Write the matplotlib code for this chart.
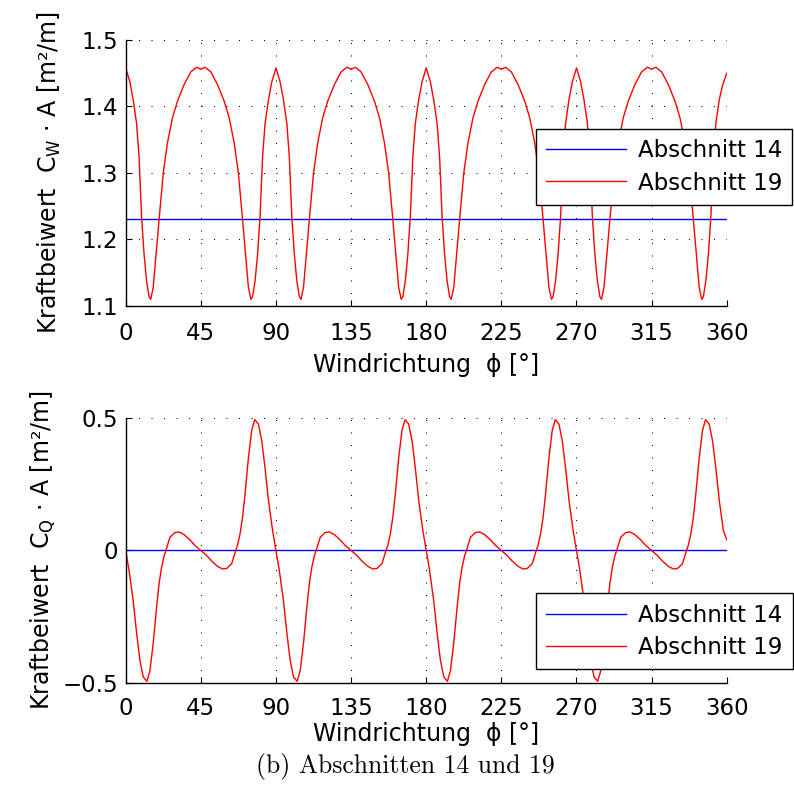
import matplotlib
matplotlib.use('Agg')
import matplotlib.pyplot as plt

# wind direction (deg) and force coefficients
phi_w = [0, 2.5, 4.5, 6.5, 8, 9.5, 11, 12.5, 14, 15, 16.5, 18, 20, 22.5, 25, 28, 31, 35, 39, 42.5,
         45, 47.5, 51, 55, 59, 62, 65, 67.5, 70, 72, 73.5, 75, 76, 77.5, 79, 80.5, 82, 83.5, 85.5, 87.5,
         90, 92.5, 94.5, 96.5, 98, 99.5, 101, 102.5, 104, 105, 106.5, 108, 110, 112.5, 115, 118, 121, 125, 129, 132.5,
         135, 137.5, 141, 145, 149, 152, 155, 157.5, 160, 162, 163.5, 165, 166, 167.5, 169, 170.5, 172, 173.5, 175.5, 177.5,
         180, 182.5, 184.5, 186.5, 188, 189.5, 191, 192.5, 194, 195, 196.5, 198, 200, 202.5, 205, 208, 211, 215, 219, 222.5,
         225, 227.5, 231, 235, 239, 242, 245, 247.5, 250, 252, 253.5, 255, 256, 257.5, 259, 260.5, 262, 263.5, 265.5, 267.5,
         270, 272.5, 274.5, 276.5, 278, 279.5, 281, 282.5, 284, 285, 286.5, 288, 290, 292.5, 295, 298, 301, 305, 309, 312.5,
         315, 317.5, 321, 325, 329, 332, 335, 337.5, 340, 342, 343.5, 345, 346, 347.5, 349, 350.5, 352, 353.5, 355.5, 357.5,
         360]
cw_19 = [1.458, 1.437, 1.410, 1.375, 1.325, 1.235, 1.178, 1.138, 1.114, 1.110, 1.128, 1.172, 1.230, 1.300, 1.345, 1.383, 1.408, 1.433, 1.452, 1.459,
         1.456, 1.459, 1.452, 1.433, 1.408, 1.383, 1.345, 1.300, 1.230, 1.172, 1.128, 1.110, 1.114, 1.138, 1.178, 1.235, 1.325, 1.375, 1.410, 1.437,
         1.458, 1.437, 1.410, 1.375, 1.325, 1.235, 1.178, 1.138, 1.114, 1.110, 1.128, 1.172, 1.230, 1.300, 1.345, 1.383, 1.408, 1.433, 1.452, 1.459,
         1.456, 1.459, 1.452, 1.433, 1.408, 1.383, 1.345, 1.300, 1.230, 1.172, 1.128, 1.110, 1.114, 1.138, 1.178, 1.235, 1.325, 1.375, 1.410, 1.437,
         1.458, 1.437, 1.410, 1.375, 1.325, 1.235, 1.178, 1.138, 1.114, 1.110, 1.128, 1.172, 1.230, 1.300, 1.345, 1.383, 1.408, 1.433, 1.452, 1.459,
         1.456, 1.459, 1.452, 1.433, 1.408, 1.383, 1.345, 1.300, 1.230, 1.172, 1.128, 1.110, 1.114, 1.138, 1.178, 1.235, 1.325, 1.375, 1.410, 1.437,
         1.458, 1.437, 1.410, 1.375, 1.325, 1.235, 1.178, 1.138, 1.114, 1.110, 1.128, 1.172, 1.230, 1.300, 1.345, 1.383, 1.408, 1.433, 1.452, 1.459,
         1.456, 1.459, 1.452, 1.433, 1.408, 1.383, 1.345, 1.300, 1.230, 1.172, 1.128, 1.110, 1.114, 1.138, 1.178, 1.235, 1.325, 1.375, 1.410, 1.432,
         1.450]

phi_q = [0, 2, 4.5, 6.5, 8.5, 10.5, 12.7, 14.5, 16.5, 18.5, 20, 21.5, 23, 24.1, 26.5, 29.5, 32, 35, 38.5, 41.5,
         45, 48.5, 51.5, 55, 58, 60.5, 63.5, 65.9, 67, 68.5, 70, 71.5, 73.5, 75.5, 77.3, 79.5, 81.5, 83.5, 85.5, 88,
         90, 92, 94.5, 96.5, 98.5, 100.5, 102.7, 104.5, 106.5, 108.5, 110, 111.5, 113, 114.1, 116.5, 119.5, 122, 125, 128.5, 131.5,
         135, 138.5, 141.5, 145, 148, 150.5, 153.5, 155.9, 157, 158.5, 160, 161.5, 163.5, 165.5, 167.3, 169.5, 171.5, 173.5, 175.5, 178,
         180, 182, 184.5, 186.5, 188.5, 190.5, 192.7, 194.5, 196.5, 198.5, 200, 201.5, 203, 204.1, 206.5, 209.5, 212, 215, 218.5, 221.5,
         225, 228.5, 231.5, 235, 238, 240.5, 243.5, 245.9, 247, 248.5, 250, 251.5, 253.5, 255.5, 257.3, 259.5, 261.5, 263.5, 265.5, 268,
         270, 272, 274.5, 276.5, 278.5, 280.5, 282.7, 284.5, 286.5, 288.5, 290, 291.5, 293, 294.1, 296.5, 299.5, 302, 305, 308.5, 311.5,
         315, 318.5, 321.5, 325, 328, 330.5, 333.5, 335.9, 337, 338.5, 340, 341.5, 343.5, 345.5, 347.3, 349.5, 351.5, 353.5, 355.5, 358,
         360]
cq_19 = [0, -0.075, -0.19, -0.31, -0.415, -0.478, -0.495, -0.455, -0.35, -0.215, -0.125, -0.063, -0.02, 0, 0.050, 0.068, 0.070, 0.060, 0.040, 0.019,
         0, -0.019, -0.040, -0.060, -0.070, -0.068, -0.050, 0, 0.02, 0.063, 0.125, 0.215, 0.35, 0.455, 0.495, 0.478, 0.415, 0.31, 0.19, 0.075,
         0, -0.075, -0.19, -0.31, -0.415, -0.478, -0.495, -0.455, -0.35, -0.215, -0.125, -0.063, -0.02, 0, 0.050, 0.068, 0.070, 0.060, 0.040, 0.019,
         0, -0.019, -0.040, -0.060, -0.070, -0.068, -0.050, 0, 0.02, 0.063, 0.125, 0.215, 0.35, 0.455, 0.495, 0.478, 0.415, 0.31, 0.19, 0.075,
         0, -0.075, -0.19, -0.31, -0.415, -0.478, -0.495, -0.455, -0.35, -0.215, -0.125, -0.063, -0.02, 0, 0.050, 0.068, 0.070, 0.060, 0.040, 0.019,
         0, -0.019, -0.040, -0.060, -0.070, -0.068, -0.050, 0, 0.02, 0.063, 0.125, 0.215, 0.35, 0.455, 0.495, 0.478, 0.415, 0.31, 0.19, 0.075,
         0, -0.075, -0.19, -0.31, -0.415, -0.478, -0.495, -0.455, -0.35, -0.215, -0.125, -0.063, -0.02, 0, 0.050, 0.068, 0.070, 0.060, 0.040, 0.019,
         0, -0.019, -0.040, -0.060, -0.070, -0.068, -0.050, 0, 0.02, 0.063, 0.125, 0.215, 0.35, 0.455, 0.495, 0.478, 0.415, 0.31, 0.19, 0.075,
         0.04]

# Abschnitt 14 is constant over the wind direction
phi_14 = [0, 360]
cw_14 = [1.231, 1.231]
cq_14 = [0, 0]

x_ticks = [0, 45, 90, 135, 180, 225, 270, 315, 360]
cw_ticks = [1.1, 1.2, 1.3, 1.4, 1.5]
cw_ticklabels = ['1.1', '1.2', '1.3', '1.4', '1.5']
cq_ticks = [-0.5, 0, 0.5]
cq_ticklabels = ['\u22120.5', '0', '0.5']
labels = ['Abschnitt 14', 'Abschnitt 19']

plt.rcParams['font.family'] = 'DejaVu Sans'
plt.rcParams['mathtext.fontset'] = 'dejavusans'

fig = plt.figure(figsize=(7.94, 8.08), dpi=100)
ax1 = fig.add_axes([0.1583, 0.6213, 0.757, 0.3292])
ax2 = fig.add_axes([0.1583, 0.1551, 0.757, 0.3272])

ax1.plot(phi_14, cw_14, color='#0000ff', linewidth=1.0, label=labels[0])
ax1.plot(phi_w, cw_19, color='#ff0000', linewidth=1.0, label=labels[1])
ax2.plot(phi_14, cq_14, color='#0000ff', linewidth=1.0, label=labels[0])
ax2.plot(phi_q, cq_19, color='#ff0000', linewidth=1.0, label=labels[1])

ax1.set_ylim(1.1, 1.5)
ax1.set_yticks(cw_ticks)
ax1.set_yticklabels(cw_ticklabels)
ax2.set_ylim(-0.5, 0.5)
ax2.set_yticks(cq_ticks)
ax2.set_yticklabels(cq_ticklabels)

for ax in (ax1, ax2):
    ax.set_xlim(0, 360)
    ax.set_xticks(x_ticks)
    ax.grid(True, color='k', linestyle=(0, (1, 11)), linewidth=0.75)
    ax.spines['top'].set_visible(False)
    ax.spines['right'].set_visible(False)
    ax.spines['left'].set_linewidth(1.0)
    ax.spines['bottom'].set_linewidth(1.0)
    ax.tick_params(direction='in', length=4.5, width=0.8, labelsize=16.5)
    ax.tick_params(axis='y', pad=5.5)

ax1.tick_params(axis='x', pad=11.5)
ax2.tick_params(axis='x', pad=10.5)

ax1.set_xlabel('Windrichtung  \u03d5 [\u00b0]', fontsize=17, labelpad=6)
ax2.set_xlabel('Windrichtung  \u03d5 [\u00b0]', fontsize=17, labelpad=1)
ax1.set_ylabel(r'Kraftbeiwert  C$_\mathrm{W}$ $\cdot$ A [m²/m]', fontsize=17, labelpad=13)
ax2.set_ylabel(r'Kraftbeiwert  C$_\mathrm{Q}$ $\cdot$ A [m²/m]', fontsize=17, labelpad=3)

leg_kw = dict(loc='upper left', bbox_transform=fig.transFigure, borderaxespad=0,
              fontsize=16.5, handlelength=3.5, handletextpad=0.5, borderpad=0.45,
              labelspacing=0.4, fancybox=False, framealpha=1, edgecolor='k')
leg1 = ax1.legend(bbox_to_anchor=(0.6747, 0.8403), **leg_kw)
leg2 = ax2.legend(bbox_to_anchor=(0.675, 0.2657), **leg_kw)
for leg in (leg1, leg2):
    leg.get_frame().set_linewidth(1.0)

fig.text(0.51, 0.051, '(b) Abschnitten 14 und 19', family='cmr10', fontsize=18.5,
         ha='center', va='center')

fig.savefig('out.png', dpi=100)
